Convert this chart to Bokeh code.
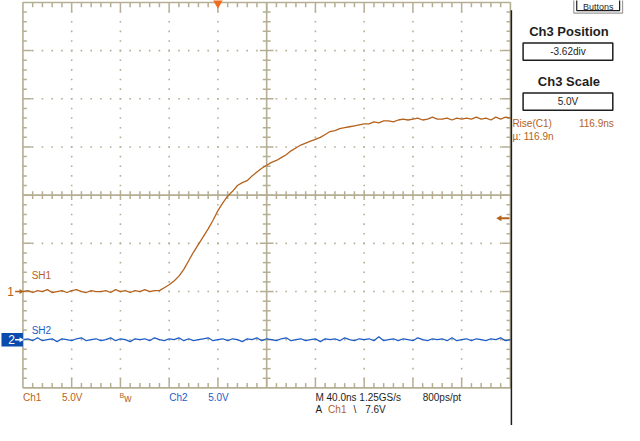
import numpy as np
from bokeh.plotting import figure
from bokeh.models import Range1d
from bokeh.core.properties import value
from bokeh.embed import file_html
from bokeh.resources import INLINE

# ---------------- data (read from the screen capture) ----------------
# time base: 40 ns/div, 10 divisions, trigger at 4 div from the left
t_ns = list(range(-160, 241, 4))

# Ch1 (5.0 V/div), volts
ch1_v = [
    0.0, 0.1, -0.1, 0.1, 0.0, 0.2, -0.1, 0.0, 0.1, -0.1,
    0.1, 0.2, 0.0, -0.1, 0.1, 0.0, 0.0, 0.1, -0.1, 0.2,
    0.0, 0.1, -0.1, 0.1, 0.0, 0.2, 0.0, 0.1, 0.1, 0.4,
    0.7, 1.1, 1.6, 2.3, 3.2, 4.1, 4.9, 5.7, 6.5, 7.4,
    8.4, 9.2, 9.9, 10.4, 11.0, 11.3, 11.5, 12.0, 12.4, 12.8,
    13.1, 13.4, 13.6, 13.9, 14.2, 14.6, 14.9, 15.2, 15.4, 15.6,
    15.8, 16.0, 16.3, 16.6, 16.7, 16.9, 17.0, 17.1, 17.2, 17.3,
    17.4, 17.4, 17.6, 17.5, 17.7, 17.7, 17.6, 17.8, 17.9, 17.8,
    17.9, 18.0, 17.8, 17.9, 18.1, 17.9, 17.9, 18.0, 17.8, 18.0,
    17.9, 18.0, 17.9, 18.1, 17.9, 18.0, 17.8, 18.1, 17.9, 18.1,
    18.0,
]

# Ch2 (5.0 V/div), volts
ch2_v = [
    0.0, 0.1, -0.1, 0.2, -0.1, 0.0, 0.1, -0.2, 0.1, 0.0,
    -0.1, 0.1, 0.2, -0.1, 0.0, 0.1, -0.1, 0.0, 0.2, -0.1,
    0.1, 0.0, -0.2, 0.1, 0.0, 0.1, -0.1, 0.2, 0.0, -0.1,
    0.1, 0.0, 0.2, -0.1, 0.1, -0.1, 0.0, 0.1, 0.2, -0.1,
    0.0, 0.1, -0.1, 0.1, 0.0, -0.2, 0.1, 0.0, 0.2, -0.1,
    0.1, 0.0, -0.1, 0.1, 0.2, -0.1, 0.0, 0.1, -0.1, 0.0,
    0.1, -0.2, 0.1, 0.0, 0.1, -0.1, 0.2, 0.0, -0.1, 0.1,
    0.0, 0.1, -0.1, 0.3, -0.1, 0.0, 0.1, -0.1, 0.1, 0.0,
    -0.1, 0.2, 0.0, -0.1, 0.1, 0.0, 0.1, -0.1, 0.2, -0.1,
    0.0, 0.1, -0.1, 0.1, 0.0, -0.1, 0.1, 0.0, 0.2, -0.1,
    0.0,
]

volts_per_div = 5.0
ch1_offset_div = -2.0
ch2_offset_div = -3.0
trigger_level_v = 7.6

bottom_line1 = ["Ch1", "5.0V", "Ch2", "5.0V", "M 40.0ns 1.25GS/s", "800ps/pt"]
ch3_position = "-3.62div"
ch3_scale = "5.0V"
rise_label = "Rise(C1)"
rise_value = "116.9ns"
rise_mean = "\u00b5: 116.9n"

# ---------------- styling ----------------
FONT = "Liberation Sans"
GRID = "#b5ae93"
ORANGE = "#b4621c"
BLUE = "#1d5cc6"
BOXBLUE = "#0a4cae"
BLACK = "#1e1e1e"

W, H = 624, 425             # figure shows the whole 640x441 screen, slightly scaled
REF_W, REF_H = 640, 441
PX_NS = 0.8                 # ns per screen px (40 ns / 50 px)
PX_DIV = 1 / 50.0           # div per screen px

def wx(px):                 # screen x (px) -> ns
    return (px - 223) * PX_NS

def gy(py):                 # screen y (px) -> div
    return (202 - py) * PX_DIV

p = figure(width=W, height=H, x_range=Range1d(wx(0), wx(REF_W)),
           y_range=Range1d(gy(REF_H), gy(0)), min_border=0,
           toolbar_location=None, output_backend="svg",
           x_axis_location=None, y_axis_location=None,
           background_fill_color="white", border_fill_color="white")
p.xgrid.visible = False
p.ygrid.visible = False
p.outline_line_color = None

XL, XR, YB, YT = -160, 240, -4, 4
XC, YC = 40, 0
minor_x = np.arange(XL + 8, XR, 8)
minor_y = np.round(np.arange(YB + 0.2, YT - 0.01, 0.2), 3)

# dotted graticule
dx, dy = [], []
for gyv in [-3, -2, -1, 1, 2, 3]:
    dx += list(minor_x); dy += [gyv] * len(minor_x)
for gxv in [-120, -80, -40, 0, 80, 120, 160, 200]:
    dx += [gxv] * len(minor_y); dy += list(minor_y)
p.scatter(dx, dy, marker="square", size=1.6, color=GRID, line_color=None)

# border
p.line([XL, XR, XR, XL, XL], [YB, YB, YT, YT, YB], line_color=GRID, line_width=1.6)
# centre lines
p.segment([XC, XL], [YB, YC], [XC, XR], [YT, YC], line_color=GRID, line_width=1.6)

# ticks
x0s, y0s, x1s, y1s = [], [], [], []
def is_major_x(v):
    return abs((v - XL) % 40) < 1e-6
def is_major_y(v):
    return abs(v - round(v)) < 1e-6
for v in minor_x:
    big = is_major_x(v)
    h_c = (5 if big else 4) * PX_DIV
    x0s.append(v); y0s.append(YC - h_c); x1s.append(v); y1s.append(YC + h_c)
    lt = (10 if big else 5) * PX_DIV
    x0s.append(v); y0s.append(YT); x1s.append(v); y1s.append(YT - lt)
    lb = (10 if big else 5) * PX_DIV
    x0s.append(v); y0s.append(YB); x1s.append(v); y1s.append(YB + lb)
for v in minor_y:
    big = is_major_y(v)
    h_c = (7 if big else 4) * PX_NS
    x0s.append(XC - h_c); y0s.append(v); x1s.append(XC + h_c); y1s.append(v)
    ll = (9 if big else 4) * PX_NS
    x0s.append(XL); y0s.append(v); x1s.append(XL + ll); y1s.append(v)
    x0s.append(XR); y0s.append(v); x1s.append(XR - ll); y1s.append(v)
p.segment(x0s, y0s, x1s, y1s, line_color=GRID, line_width=1.5)

# traces
ch1_div = [ch1_offset_div + v / volts_per_div for v in ch1_v]
ch2_div = [ch2_offset_div + v / volts_per_div for v in ch2_v]
p.line(t_ns, ch2_div, line_color=BLUE, line_width=1.3)
p.line(t_ns, ch1_div, line_color=ORANGE, line_width=1.3)

# right side black edge
p.segment([wx(524)], [gy(10)], [wx(524)], [gy(445)], line_color=BLACK, line_width=1.5)

# trigger position (top) and level (right)
p.scatter([0], [gy(2.5)], marker="inverted_triangle", size=10,
          color="#f26a1c", line_color=None)
trig_div = ch1_offset_div + trigger_level_v / volts_per_div
p.segment([wx(513)], [trig_div], [wx(522)], [trig_div], line_color=ORANGE, line_width=2)
p.scatter([wx(512)], [trig_div], marker="triangle", angle=np.pi / 2, size=6,
          color=ORANGE, line_color=None)

# channel ground markers (left)
p.text([wx(7)], [ch1_offset_div], text=["1"], text_color=ORANGE,
       text_font=value(FONT), text_font_size="12px", text_baseline="middle")
p.segment([wx(15)], [ch1_offset_div], [wx(20)], [ch1_offset_div], line_color=ORANGE, line_width=1.5)
p.scatter([wx(21)], [ch1_offset_div], marker="triangle", angle=-np.pi / 2, size=5,
          color=ORANGE, line_color=None)
p.quad(left=[wx(1)], right=[wx(23)], top=[gy(345)], bottom=[gy(359)],
       fill_color=BOXBLUE, line_color=None)
p.text([wx(8)], [ch2_offset_div], text=["2"], text_color="white",
       text_font=value(FONT), text_font_size="12px", text_baseline="middle")
p.segment([wx(15)], [ch2_offset_div], [wx(20)], [ch2_offset_div], line_color="white", line_width=1.3)
p.scatter([wx(21)], [ch2_offset_div], marker="triangle", angle=-np.pi / 2, size=5,
          color="white", line_color=None)
p.text([wx(32)], [gy(285)], text=["SH1"], text_color=ORANGE,
       text_font=value(FONT), text_font_size="10px", text_baseline="middle")
p.text([wx(32)], [gy(342)], text=["SH2"], text_color=BLUE,
       text_font=value(FONT), text_font_size="10px", text_baseline="middle")

# measurement readout
p.text([wx(525)], [gy(128)], text=[rise_label], text_color=ORANGE,
       text_font=value(FONT), text_font_size="10px", text_baseline="middle")
p.text([wx(629)], [gy(128)], text=[rise_value], text_color=ORANGE,
       text_font=value(FONT), text_font_size="10px", text_baseline="middle", text_align="right")
p.text([wx(525)], [gy(141)], text=[rise_mean], text_color=ORANGE,
       text_font=value(FONT), text_font_size="10px", text_baseline="middle")

# side panel
p.quad(left=[wx(588)], right=[wx(638)], top=[gy(-6)], bottom=[gy(13)],
       fill_color="white", line_color="#9a9a9a", line_width=1.2)
p.quad(left=[wx(591)], right=[wx(635)], top=[gy(-6)], bottom=[gy(10.5)],
       fill_color="white", line_color=BLACK, line_width=1.2)
p.text([wx(613)], [gy(1.5)], text=["Buttons"], text_color=BLACK,
       text_font=value(FONT), text_font_size="9px", text_baseline="top", text_align="center")
p.text([wx(583)], [gy(32)], text=["Ch3 Position"], text_color=BLACK,
       text_font=value(FONT), text_font_size="13px", text_font_style="bold",
       text_baseline="middle", text_align="center")
p.quad(left=[wx(536)], right=[wx(628)], top=[gy(44)], bottom=[gy(62)],
       fill_color="white", line_color=BLACK, line_width=1.5)
p.text([wx(582)], [gy(53)], text=[ch3_position], text_color=BLACK,
       text_font=value(FONT), text_font_size="10px", text_baseline="middle", text_align="center")
p.text([wx(583)], [gy(84)], text=["Ch3 Scale"], text_color=BLACK,
       text_font=value(FONT), text_font_size="13px", text_font_style="bold",
       text_baseline="middle", text_align="center")
p.quad(left=[wx(536)], right=[wx(628)], top=[gy(96)], bottom=[gy(114)],
       fill_color="white", line_color=BLACK, line_width=1.5)
p.text([wx(582)], [gy(105)], text=[ch3_scale], text_color=BLACK,
       text_font=value(FONT), text_font_size="10px", text_baseline="middle", text_align="center")

# bottom status line
y1 = gy(412)
y2 = gy(424)
p.text([wx(23), wx(63)], [y1, y1], text=bottom_line1[0:2], text_color=ORANGE,
       text_font=value(FONT), text_font_size="10px", text_baseline="middle")
p.text([wx(122)], [gy(410)], text=["B"], text_color=ORANGE,
       text_font=value(FONT), text_font_size="7px", text_baseline="middle")
p.text([wx(127)], [gy(413)], text=["w"], text_color=ORANGE,
       text_font=value(FONT), text_font_size="10px", text_baseline="middle")
p.text([wx(173), wx(213)], [y1, y1], text=bottom_line1[2:4], text_color=BLUE,
       text_font=value(FONT), text_font_size="10px", text_baseline="middle")
p.text([wx(323), wx(433)], [y1, y1], text=bottom_line1[4:6], text_color=BLACK,
       text_font=value(FONT), text_font_size="10px", text_baseline="middle")
p.text([wx(323), wx(362), wx(374)], [y2, y2, y2], text=["A", "\\", "7.6V"], text_color=BLACK,
       text_font=value(FONT), text_font_size="10px", text_baseline="middle")
p.text([wx(336)], [y2], text=["Ch1"], text_color=ORANGE,
       text_font=value(FONT), text_font_size="10px", text_baseline="middle")

open("out.html", "w").write(file_html(p, INLINE))
